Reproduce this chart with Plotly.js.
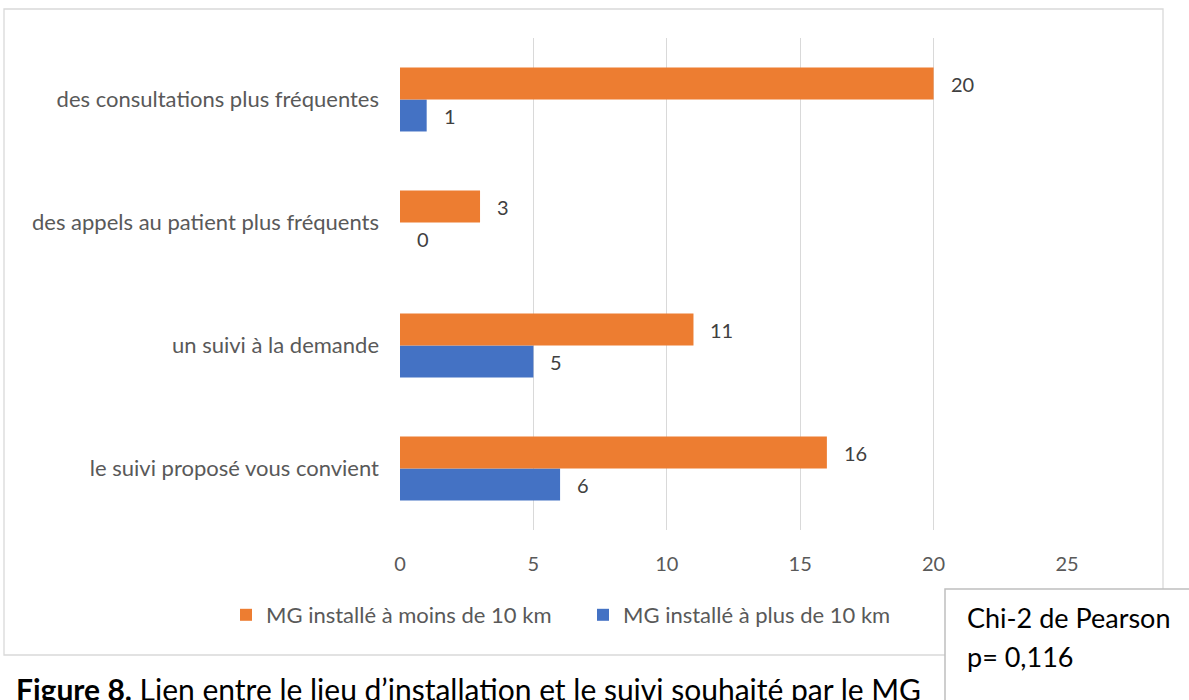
<!DOCTYPE html>
<html>
<head>
<meta charset="utf-8">
<script src="https://cdn.plot.ly/plotly-3.0.1.min.js"></script>
<style>
  html, body { margin: 0; padding: 0; background: #ffffff; }
  #chart { width: 1189px; height: 700px; }
</style>
</head>
<body>
<div id="chart"></div>
<script>
// Data (bottom to top as drawn)
const categories = [
  "le suivi proposé vous convient",
  "un suivi à la demande",
  "des appels au patient plus fréquents",
  "des consultations plus fréquentes"
];
const moins10 = [16, 11, 3, 20];
const plus10 = [6, 5, 0, 1];
const seriesNames = ["MG installé à moins de 10 km", "MG installé à plus de 10 km"];
const xTicks = [0, 5, 10, 15, 20, 25];
const caption = "<b>Figure 8.</b> Lien entre le lieu d’installation et le suivi souhaité par le MG";
const statLines = ["Chi-2 de Pearson", "p= 0,116"];

const FONT = "Lato, 'Open Sans', sans-serif";
const ORANGE = "#ED7D31";
const BLUE = "#4472C4";

const traces = [
  {
    type: "bar", orientation: "h", name: seriesNames[1],
    x: plus10, y: categories,
    marker: { color: BLUE },
    hoverinfo: "x+name"
  },
  {
    type: "bar", orientation: "h", name: seriesNames[0],
    x: moins10, y: categories,
    marker: { color: ORANGE },
    hoverinfo: "x+name"
  }
];

const annotations = [];
categories.forEach((c, i) => {
  annotations.push({
    x: moins10[i], y: c, xref: "x", yref: "y", text: String(moins10[i]),
    showarrow: false, xanchor: "left", yanchor: "middle", xshift: 15, yshift: 16,
    font: { family: FONT, size: 20, color: "#404040" }
  });
  annotations.push({
    x: plus10[i], y: c, xref: "x", yref: "y", text: String(plus10[i]),
    showarrow: false, xanchor: "left", yanchor: "middle", xshift: 15, yshift: -16,
    font: { family: FONT, size: 20, color: "#404040" }
  });
});

// plot area in px: x 400..1067, y 38..530
const L = 400, PW = 667, B = 530, PH = 492;
const px = v => (v - L) / PW;
const py = v => (B - v) / PH;

annotations.push({
  xref: "paper", yref: "paper", x: px(14), y: py(689),
  xanchor: "left", yanchor: "middle", showarrow: false, align: "left",
  text: caption,
  font: { family: FONT, size: 30, color: "#000000" }
});

const shapes = [
  {
    type: "rect", xref: "paper", yref: "paper",
    x0: px(4), x1: px(1163), y0: py(655), y1: py(9),
    line: { color: "#d9d9d9", width: 1.3 }, fillcolor: "rgba(0,0,0,0)", layer: "below"
  },
  {
    type: "rect", xref: "paper", yref: "paper",
    x0: px(945), x1: px(1220), y0: py(720), y1: py(589),
    line: { color: "#bfbfbf", width: 1.5 }, fillcolor: "#ffffff", layer: "above"
  }
];

const layout = {
  width: 1189, height: 700,
  margin: { l: 400, r: 122, t: 38, b: 170, pad: 0 },
  paper_bgcolor: "#ffffff", plot_bgcolor: "#ffffff",
  barmode: "group", bargap: 0.48, bargroupgap: 0,
  font: { family: FONT, size: 20, color: "#595959" },
  showlegend: true,
  legend: {
    orientation: "h", traceorder: "reversed",
    x: px(226), y: py(615), xanchor: "left", yanchor: "middle",
    xref: "paper", yref: "paper",
    font: { family: FONT, size: 22, color: "#595959" },
    entrywidth: 312, entrywidthmode: "pixels",
    bgcolor: "rgba(0,0,0,0)"
  },
  xaxis: {
    range: [0, 25], tickvals: xTicks, ticktext: xTicks.map(String),
    showgrid: true, gridcolor: "#d9d9d9", gridwidth: 1.3,
    zeroline: false, showline: false, ticks: "",
    ticklabelstandoff: 20,
    tickfont: { family: FONT, size: 20, color: "#595959" },
    fixedrange: true
  },
  yaxis: {
    type: "category", categoryorder: "array", categoryarray: categories,
    range: [-0.5, 3.5],
    showgrid: false, zeroline: false, showline: false, ticks: "",
    ticklabelstandoff: 20,
    tickfont: { family: FONT, size: 22, color: "#595959" },
    fixedrange: true
  },
  annotations: annotations,
  shapes: shapes
};

Plotly.newPlot("chart", traces, layout, { displayModeBar: false, staticPlot: true }).then(() => {
  // stat box text drawn on top of the box shape
  Plotly.relayout("chart", {
    annotations: annotations.concat([
      {
        xref: "paper", yref: "paper", x: px(965), y: py(617),
        xanchor: "left", yanchor: "middle", showarrow: false,
        text: statLines[0],
        font: { family: FONT, size: 27, color: "#000000" }
      },
      {
        xref: "paper", yref: "paper", x: px(965), y: py(656),
        xanchor: "left", yanchor: "middle", showarrow: false,
        text: statLines[1],
        font: { family: FONT, size: 27, color: "#000000" }
      }
    ])
  });
});
</script>
</body>
</html>
